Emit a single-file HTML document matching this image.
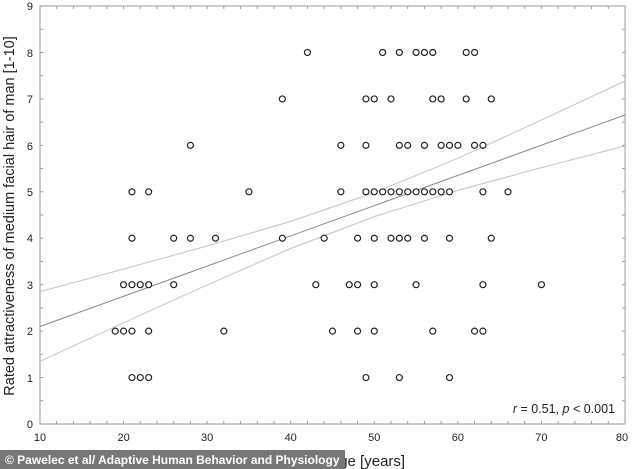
<!DOCTYPE html>
<html><head><meta charset="utf-8"><style>
body{margin:0;background:#fff;width:632px;height:469px;overflow:hidden;font-family:"Liberation Sans",sans-serif}
</style></head><body>
<svg width="632" height="469" xmlns="http://www.w3.org/2000/svg" style="position:absolute;left:0;top:0">
<rect width="632" height="469" fill="#fff"/>
<g id="ticks" stroke="#999" stroke-width="1"></g>
<rect x="40" y="6" width="585" height="418" fill="none" stroke="#9a9a9a" stroke-width="1"/>
<polyline fill="none" stroke="#c4c4c4" stroke-width="1" points="40,291.6 123.6,269.1 207.1,246 290.7,221.4 374.3,192.6 457.9,158.3 541.4,120.1 625,81"/>
<polyline fill="none" stroke="#c4c4c4" stroke-width="1" points="40,361.3 123.6,322.8 207.1,284.9 290.7,248.5 374.3,216.6 457.9,190.4 541.4,167.6 625,146"/>
<line x1="40" y1="326.5" x2="625" y2="115" stroke="#8a8a8a" stroke-width="1"/>
<g id="pts" fill="#fff" stroke="#222" stroke-width="1.2"></g>
<g font-size="11" fill="#222" text-anchor="middle">
<text x="40" y="441">10</text><text x="123.6" y="441">20</text><text x="207.1" y="441">30</text><text x="290.7" y="441">40</text><text x="374.3" y="441">50</text><text x="457.9" y="441">60</text><text x="541.4" y="441">70</text><text x="622" y="441">80</text>
</g>
<g font-size="11" fill="#222" text-anchor="end">
<text x="33" y="428">0</text><text x="33" y="382">1</text><text x="33" y="335">2</text><text x="33" y="289">3</text><text x="33" y="242">4</text><text x="33" y="196">5</text><text x="33" y="150">6</text><text x="33" y="103">7</text><text x="33" y="57">8</text><text x="33" y="10">9</text>
</g>
<text transform="translate(14,216) rotate(-90)" font-size="14.5" fill="#222" text-anchor="middle">Rated attractiveness of medium facial hair of man [1-10]</text>
<text x="615" y="413" font-size="12.5" fill="#222" text-anchor="end"><tspan font-style="italic">r</tspan> = 0.51, <tspan font-style="italic">p</tspan> &lt; 0.001</text>
<text x="335" y="466" font-size="15" fill="#222" text-anchor="middle">Woman's age [years]</text>
<rect x="0" y="450" width="345" height="19" fill="#777"/>
<text x="5" y="464" font-size="12" font-weight="bold" fill="#fff">© Pawelec et al/ Adaptive Human Behavior and Physiology</text>
</svg>
<script>
var ns="http://www.w3.org/2000/svg";
function X(a){return 40+8.357*(a-10)} function Y(v){return 424-46.44*v}
var d={8:[42,51,53,55,56,57,61,62],7:[39,49,50,52,57,58,61,64],6:[28,46,49,53,54,56,58,59,60,62,63],
5:[21,23,35,46,49,50,51,52,53,54,55,56,57,58,59,63,66],4:[21,26,28,31,39,44,48,50,52,53,54,56,59,64],
3:[20,21,22,23,26,43,47,48,50,55,63,70],2:[19,20,21,23,32,45,48,50,57,62,63],1:[21,22,23,49,53,59]};
var g=document.getElementById('pts');
for(var v in d)d[v].forEach(function(a){var c=document.createElementNS(ns,'circle');c.setAttribute('cx',X(a));c.setAttribute('cy',Y(+v));c.setAttribute('r',3);g.appendChild(c);});
var t=document.getElementById('ticks');
function L(x1,y1,x2,y2){var l=document.createElementNS(ns,'line');l.setAttribute('x1',x1);l.setAttribute('y1',y1);l.setAttribute('x2',x2);l.setAttribute('y2',y2);t.appendChild(l);}
for(var a=10;a<=80;a+=2){var x=X(a);L(x,424,x,421);L(x,6,x,9);}
for(var v=0;v<=9;v+=0.5){var y=Y(v);L(40,y,43,y);L(625,y,622,y);}
</script>
</body></html>
